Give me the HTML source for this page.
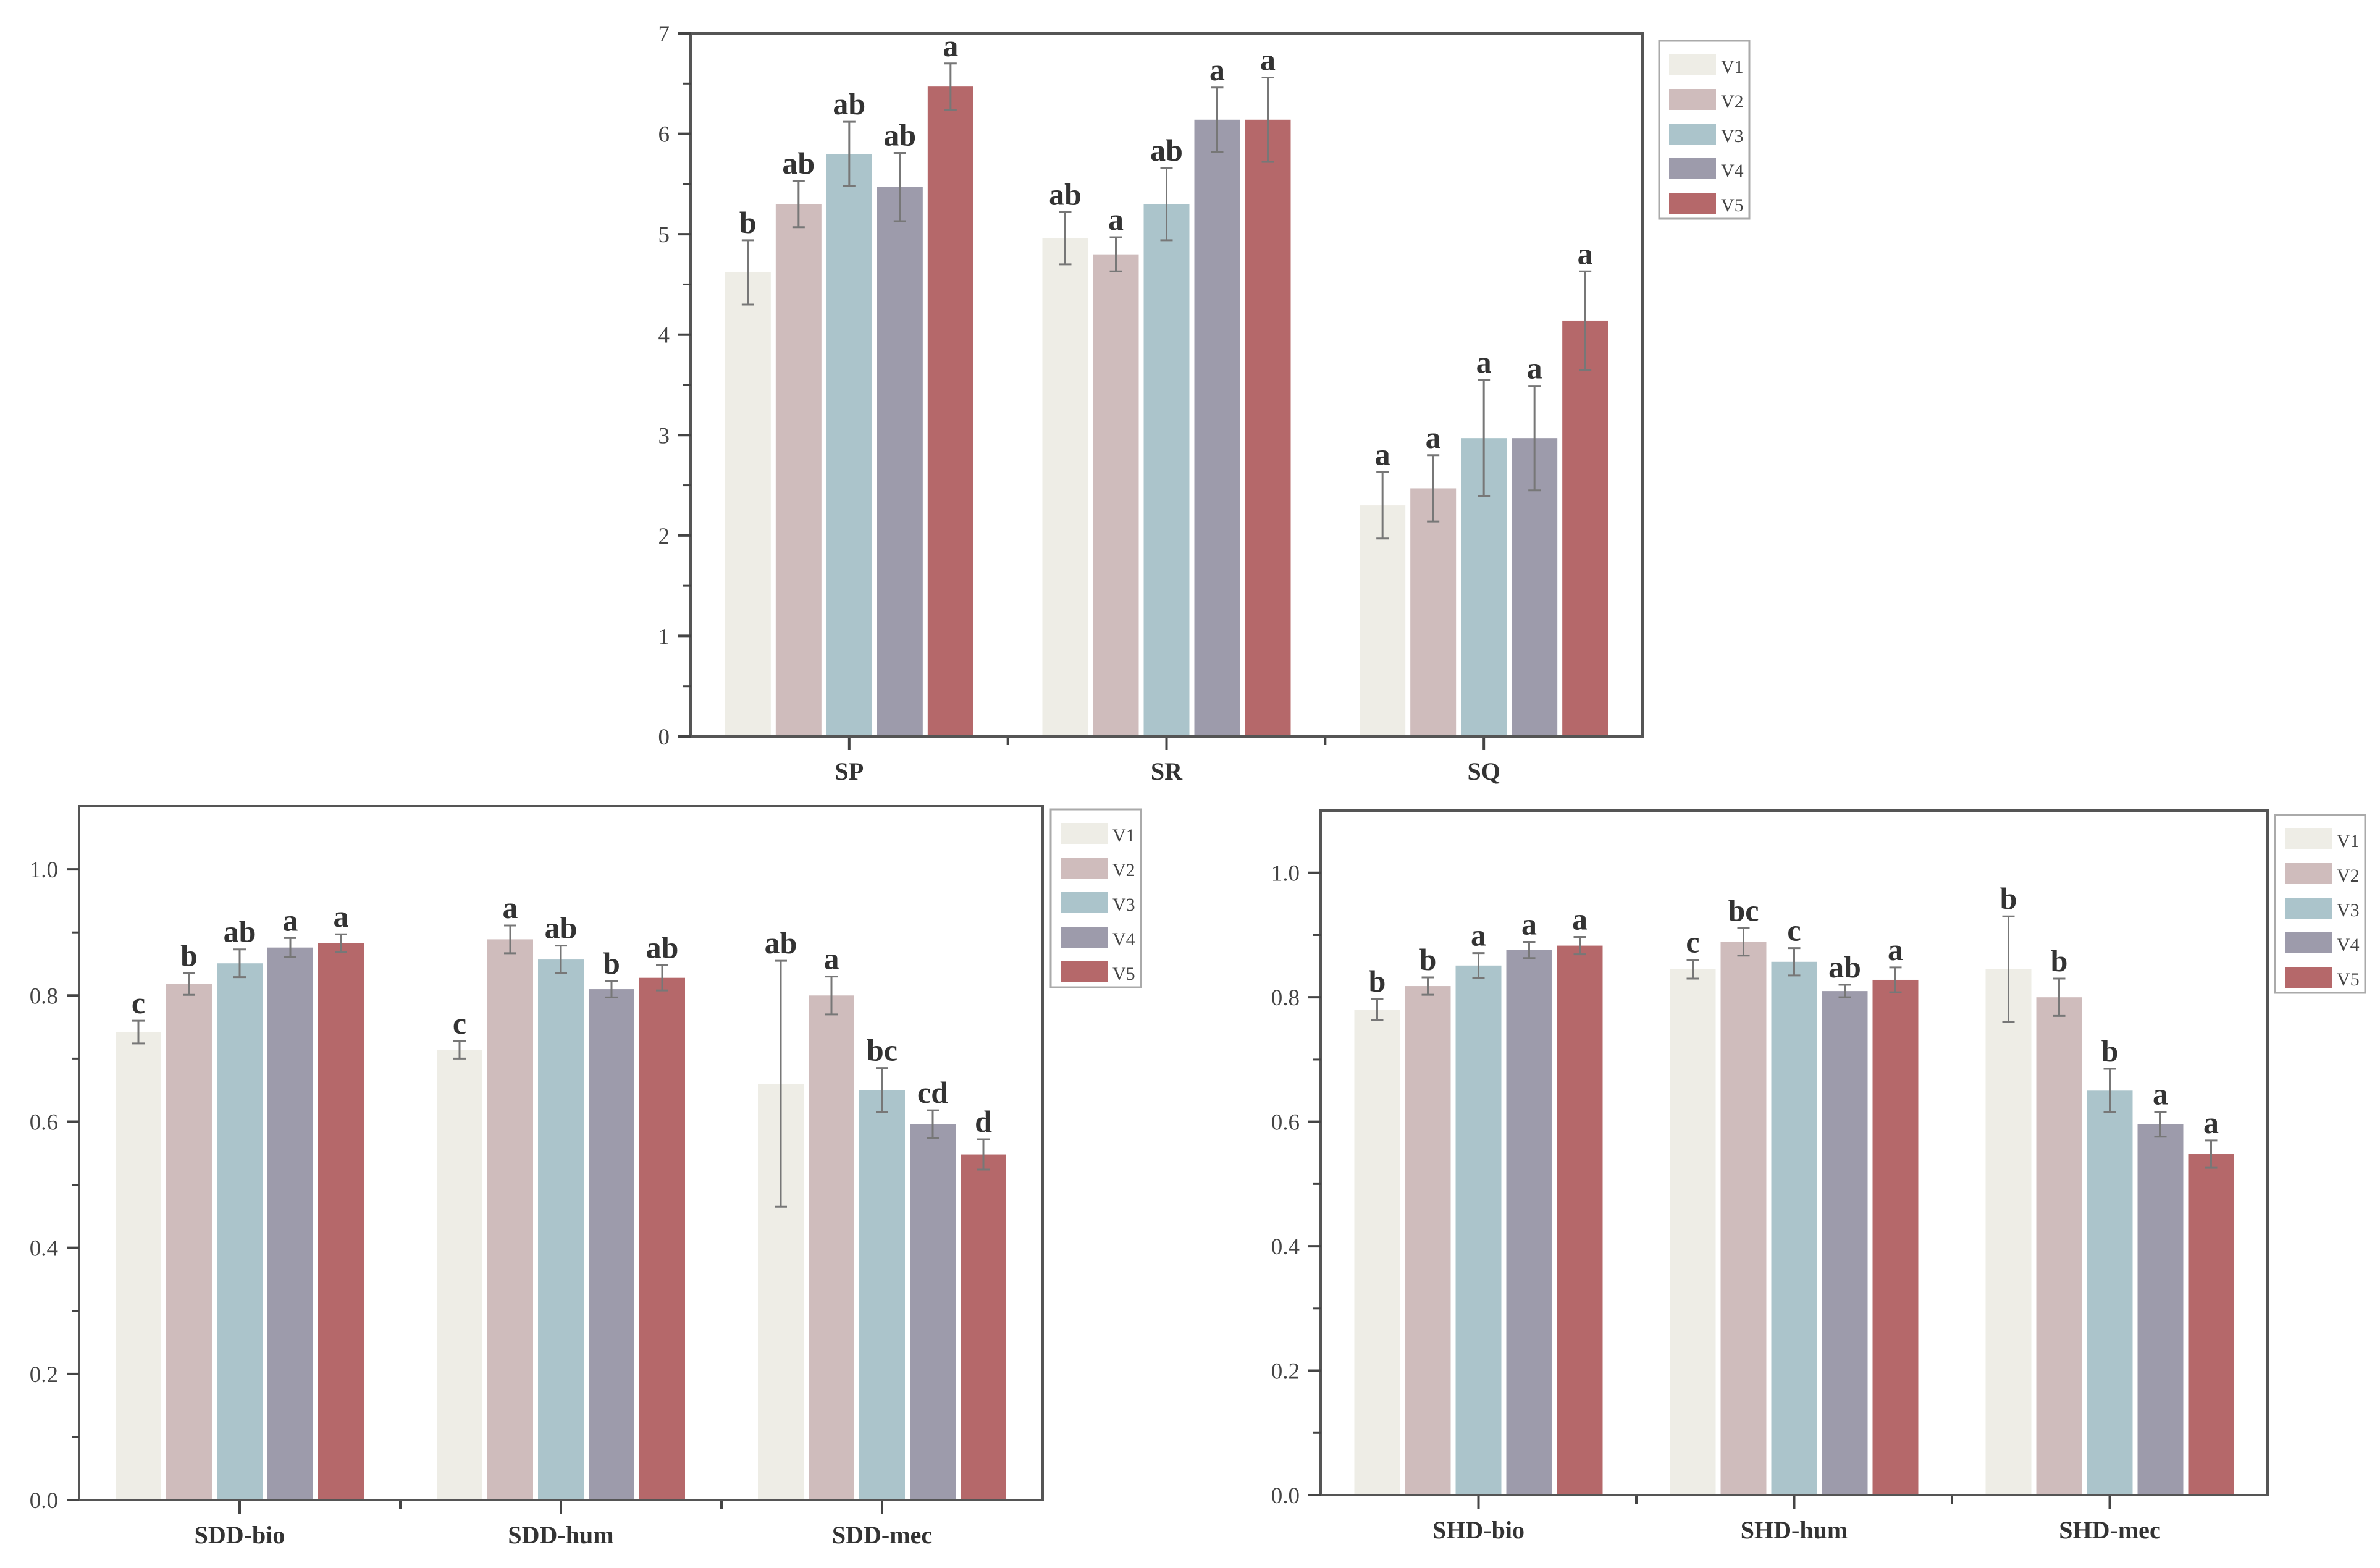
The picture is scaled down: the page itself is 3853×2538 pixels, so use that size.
<!DOCTYPE html>
<html><head><meta charset="utf-8"><style>
html,body{margin:0;padding:0;background:#fff;}
svg{display:block;font-family:"Liberation Serif",serif;}
</style></head><body>
<svg id="fig" width="3853" height="2538" viewBox="0 0 3853 2538" xmlns="http://www.w3.org/2000/svg"></svg>
<script>
const seriesNames = ["V1","V2","V3","V4","V5"];
const colors = ["#eeede6","#cfbcbc","#abc4cb","#9d9bab","#b5686a"];

const topCats = ["SP","SR","SQ"];
const topVals = [[4.62,5.3,5.8,5.47,6.47],[4.96,4.8,5.3,6.14,6.14],[2.3,2.47,2.97,2.97,4.14]];
const topErr = [[0.32,0.23,0.32,0.34,0.23],[0.26,0.17,0.36,0.32,0.42],[0.33,0.33,0.58,0.52,0.49]];
const topLetters = [["b","ab","ab","ab","a"],["ab","a","ab","a","a"],["a","a","a","a","a"]];
const topTicks = ["0","1","2","3","4","5","6","7"];

const sddCats = ["SDD-bio","SDD-hum","SDD-mec"];
const sddVals = [[0.742,0.818,0.851,0.876,0.883],[0.714,0.889,0.857,0.81,0.828],[0.66,0.80,0.65,0.596,0.548]];
const sddErr = [[0.018,0.017,0.022,0.015,0.014],[0.014,0.022,0.022,0.013,0.02],[0.195,0.03,0.035,0.022,0.024]];
const sddLetters = [["c","b","ab","a","a"],["c","a","ab","b","ab"],["ab","a","bc","cd","d"]];

const shdCats = ["SHD-bio","SHD-hum","SHD-mec"];
const shdVals = [[0.78,0.818,0.851,0.876,0.883],[0.845,0.889,0.857,0.81,0.828],[0.845,0.80,0.65,0.596,0.548]];
const shdErr = [[0.017,0.014,0.02,0.013,0.014],[0.015,0.022,0.022,0.01,0.02],[0.085,0.03,0.035,0.02,0.022]];
const shdLetters = [["b","b","a","a","a"],["c","bc","c","ab","a"],["b","b","b","a","a"]];
const fracTicks = ["0.0","0.2","0.4","0.6","0.8","1.0"];

const NS="http://www.w3.org/2000/svg";
const svg=document.getElementById('fig');
function mk(tag,attrs,parent){const e=document.createElementNS(NS,tag);for(const k in attrs)e.setAttribute(k,attrs[k]);(parent||svg).appendChild(e);return e;}

function chart(o){
  const g=mk('g',{});
  
  
  const {L,R,T,B,ymax,tickStep,minorStep}=o;
  const y=v=>B-(v/ymax)*(B-T);
  const groupW=(R-L)/o.cats.length;
  const cx=i=>L+groupW*(i+0.5);
  const pitch=82,bw=74;
  // bars
  o.vals.forEach((grp,i)=>{
    grp.forEach((v,j)=>{
      const x=cx(i)+(j-2)*pitch-bw/2;
      const r=mk('rect',{x:x,y:y(v),width:bw,height:B-y(v),fill:colors[j]},g);
      
      
      const e=o.err[i][j], xc=x+bw/2;
      const eb=mk('path',{d:`M${xc},${y(v+e)}V${y(v-e)}M${xc-10},${y(v+e)}H${xc+10}M${xc-10},${y(v-e)}H${xc+10}`,stroke:'#777','stroke-width':3,fill:'none'},g);
      
      
      const t=mk('text',{x:xc,y:y(v+e)-12,'text-anchor':'middle','font-size':50,'font-weight':'bold',fill:'#333'},g);
      t.textContent=o.letters[i][j];
      
      
    });
    const cl=mk('text',{x:cx(i),y:B+70,'text-anchor':'middle','font-size':40,'font-weight':'bold',fill:'#333'},g);
    cl.textContent=o.cats[i];
    
    
    mk('line',{x1:cx(i),x2:cx(i),y1:B,y2:B+22,stroke:'#444','stroke-width':4},g);
    if(i>0) mk('line',{x1:L+groupW*i,x2:L+groupW*i,y1:B,y2:B+14,stroke:'#444','stroke-width':4},g);
  });
  // frame
  const f=mk('rect',{x:L,y:T,width:R-L,height:B-T,fill:'none',stroke:'#555','stroke-width':4},g);
  
  
  // y ticks
  o.ticks.forEach((lab,k)=>{
    const v=k*tickStep, yy=y(v);
    mk('line',{x1:L-20,x2:L,y1:yy,y2:yy,stroke:'#444','stroke-width':4},g);
    const t=mk('text',{x:L-34,y:yy+13,'text-anchor':'end','font-size':37,fill:'#444'},g);
    t.textContent=lab;
    
    
  });
  for(let v=minorStep;v<ymax-1e-9;v+=tickStep){
    mk('line',{x1:L-12,x2:L,y1:y(v),y2:y(v),stroke:'#444','stroke-width':3},g);
  }
  // legend
  const lg=mk('g',{},g);
  
  
  mk('rect',{x:o.lx,y:o.ly,width:146,height:288,fill:'#fff',stroke:'#aaa','stroke-width':3},lg);
  seriesNames.forEach((n,j)=>{
    const yy=o.ly+22+j*56;
    mk('rect',{x:o.lx+16,y:yy,width:76,height:34,fill:colors[j]},lg);
    const t=mk('text',{x:o.lx+100,y:yy+30,'font-size':30,fill:'#444'},lg);
    t.textContent=n;
    
    
  });
}

chart({name:'top-chart',L:1118,R:2659,T:54,B:1192,ymax:7,tickStep:1,minorStep:0.5,ticks:topTicks,cats:topCats,vals:topVals,err:topErr,letters:topLetters,lx:2686,ly:66});
chart({name:'sdd-chart',L:128,R:1688,T:1305,B:2428,ymax:1.1,tickStep:0.2,minorStep:0.1,ticks:fracTicks,cats:sddCats,vals:sddVals,err:sddErr,letters:sddLetters,lx:1701,ly:1310});
chart({name:'shd-chart',L:2138,R:3671,T:1312,B:2420,ymax:1.1,tickStep:0.2,minorStep:0.1,ticks:fracTicks,cats:shdCats,vals:shdVals,err:shdErr,letters:shdLetters,lx:3683,ly:1319});
</script>
</body></html>
